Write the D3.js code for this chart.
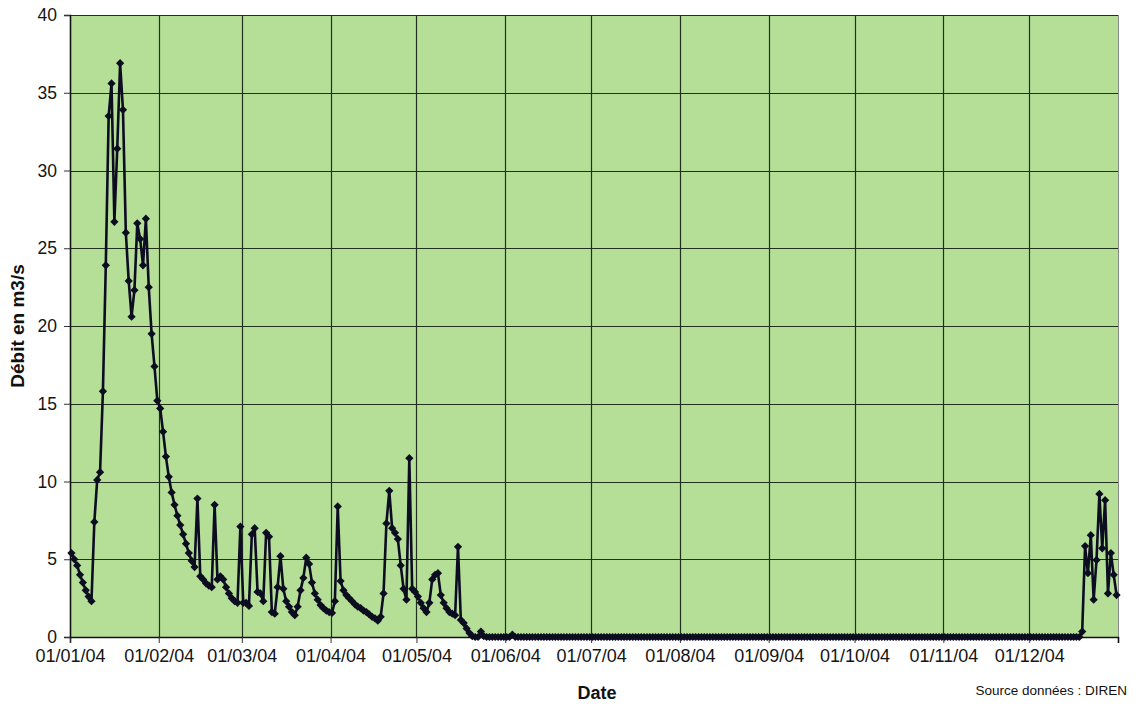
<!DOCTYPE html>
<html><head><meta charset="utf-8">
<script src="https://cdn.jsdelivr.net/npm/d3@7"></script>
<style>body{margin:0;background:#fff} svg{display:block}</style>
</head><body>
<svg id="chart" width="1136" height="708"></svg>
<script>
// Débit journalier 2004 (m3/s), une liste par mois
const janvier = [5.4, 5.0, 4.6, 4.0, 3.5, 3.0, 2.6, 2.3, 7.4, 10.1,
  10.6, 15.8, 23.9, 33.5, 35.6, 26.7, 31.4, 36.9, 33.9, 26.0,
  22.9, 20.6, 22.3, 26.6, 25.6, 23.9, 26.9, 22.5, 19.5, 17.4, 15.2];
const fevrier = [14.7, 13.2, 11.6, 10.3, 9.3, 8.5, 7.8, 7.2, 6.6, 6.0,
  5.4, 4.9, 4.5, 8.9, 3.9, 3.7, 3.45, 3.3, 3.2, 8.5,
  3.7, 3.9, 3.7, 3.2, 2.8, 2.5, 2.3, 2.2, 7.1];
const mars = [2.2, 2.2, 2.0, 6.6, 7.0, 2.9, 2.8, 2.3, 6.7, 6.45,
  1.6, 1.5, 3.2, 5.2, 3.1, 2.3, 1.95, 1.6, 1.4, 1.95,
  3.0, 3.8, 5.1, 4.7, 3.5, 2.8, 2.4, 2.05, 1.85, 1.7, 1.6];
const avril = [1.55, 2.3, 8.4, 3.6, 3.0, 2.7, 2.5, 2.3, 2.1, 1.95,
  1.85, 1.7, 1.6, 1.45, 1.3, 1.2, 1.05, 1.3, 2.8, 7.3,
  9.4, 7.0, 6.7, 6.3, 4.6, 3.1, 2.4, 11.5, 3.1, 2.9];
const mai = [2.6, 2.2, 1.85, 1.6, 2.2, 3.7, 4.0, 4.1, 2.7, 2.2,
  1.85, 1.6, 1.5, 1.4, 5.8, 1.1, 0.9, 0.55, 0.25, 0.05,
  0, 0, 0.35, 0.05, 0, 0, 0, 0, 0, 0, 0];
const juin = [0, 0, 0.15, 0, 0, 0, 0, 0, 0, 0,
  0, 0, 0, 0, 0, 0, 0, 0, 0, 0,
  0, 0, 0, 0, 0, 0, 0, 0, 0, 0];
const juillet = [0, 0, 0, 0, 0, 0, 0, 0, 0, 0,
  0, 0, 0, 0, 0, 0, 0, 0, 0, 0,
  0, 0, 0, 0, 0, 0, 0, 0, 0, 0, 0];
const aout = [0, 0, 0, 0, 0, 0, 0, 0, 0, 0,
  0, 0, 0, 0, 0, 0, 0, 0, 0, 0,
  0, 0, 0, 0, 0, 0, 0, 0, 0, 0, 0];
const septembre = [0, 0, 0, 0, 0, 0, 0, 0, 0, 0,
  0, 0, 0, 0, 0, 0, 0, 0, 0, 0,
  0, 0, 0, 0, 0, 0, 0, 0, 0, 0];
const octobre = [0, 0, 0, 0, 0, 0, 0, 0, 0, 0,
  0, 0, 0, 0, 0, 0, 0, 0, 0, 0,
  0, 0, 0, 0, 0, 0, 0, 0, 0, 0, 0];
const novembre = [0, 0, 0, 0, 0, 0, 0, 0, 0, 0,
  0, 0, 0, 0, 0, 0, 0, 0, 0, 0,
  0, 0, 0, 0, 0, 0, 0, 0, 0, 0];
const decembre = [0, 0, 0, 0, 0, 0, 0, 0, 0, 0,
  0, 0, 0, 0, 0, 0, 0, 0, 0.35, 5.85,
  4.1, 6.55, 2.4, 4.95, 9.2, 5.7, 8.8, 2.8, 5.4, 4.0, 2.7];

const monthLabels = ["01/01/04", "01/02/04", "01/03/04", "01/04/04", "01/05/04", "01/06/04",
  "01/07/04", "01/08/04", "01/09/04", "01/10/04", "01/11/04", "01/12/04"];
const yTickValues = [0, 5, 10, 15, 20, 25, 30, 35, 40];

const debit = [].concat(janvier, fevrier, mars, avril, mai, juin, juillet, aout,
  septembre, octobre, novembre, decembre);

const svg = d3.select("#chart");
const P = {left: 70, right: 1118, top: 15, bottom: 637};
const FONT = "'Liberation Sans', Arial, sans-serif";

const start = new Date(2004, 0, 1), end = new Date(2005, 0, 1);
const x = d3.scaleTime().domain([start, end]).range([P.left, P.right]);
const y = d3.scaleLinear().domain([0, 40]).range([P.bottom, P.top]);

const data = debit.map((v, i) => ({date: new Date(2004, 0, 1 + i, 12), v}));
const monthDates = d3.timeMonth.range(start, end);

// plot background
svg.append("rect").attr("x", P.left).attr("y", P.top)
  .attr("width", P.right - P.left).attr("height", P.bottom - P.top)
  .attr("fill", "#b5de97");

// gridlines
const grid = svg.append("g").attr("stroke", "#22301d").attr("stroke-width", 1.2);
grid.selectAll("line.h").data(yTickValues.filter(d => d > 0)).join("line")
  .attr("x1", P.left).attr("x2", P.right)
  .attr("y1", d => Math.round(y(d)) + 0.5).attr("y2", d => Math.round(y(d)) + 0.5);
grid.selectAll("line.v").data(monthDates.slice(1)).join("line")
  .attr("y1", P.top).attr("y2", P.bottom)
  .attr("x1", d => Math.round(x(d)) + 0.5).attr("x2", d => Math.round(x(d)) + 0.5);
// right border
svg.append("line").attr("x1", P.right + 0.5).attr("x2", P.right + 0.5)
  .attr("y1", P.top).attr("y2", P.bottom).attr("stroke", "#8a8a8a").attr("stroke-width", 1);

// axes
const xAxis = d3.axisBottom(x).tickValues(monthDates)
  .tickFormat((d, i) => monthLabels[i]).tickSize(6).tickPadding(6);
const gx = svg.append("g").attr("transform", `translate(0,${P.bottom})`).call(xAxis);
const yAxis = d3.axisLeft(y).tickValues(yTickValues).tickFormat(d3.format("d"))
  .tickSize(6).tickPadding(7);
const gy = svg.append("g").attr("transform", `translate(${P.left},0)`).call(yAxis);
[gx, gy].forEach(g => {
  g.select(".domain").attr("stroke", "#111").attr("stroke-width", 1.6);
  g.selectAll(".tick line").attr("stroke", "#333");
  g.selectAll("text").attr("font-family", FONT).attr("fill", "#151515");
});
gx.selectAll("text").attr("font-size", 18);
gy.selectAll("text").attr("font-size", 17.5);

// series
const line = d3.line().x(d => x(d.date)).y(d => y(d.v));
svg.append("path").datum(data).attr("d", line)
  .attr("fill", "none").attr("stroke", "#0d0d22").attr("stroke-width", 2.6)
  .attr("stroke-linejoin", "round");
const sym = d3.symbol(d3.symbolSquare, 34);
svg.append("g").selectAll("path").data(data).join("path")
  .attr("d", sym)
  .attr("transform", d => `translate(${x(d.date)},${y(d.v)}) rotate(45)`)
  .attr("fill", "#0d0d22");

// titles
svg.append("text").attr("x", 597).attr("y", 699).attr("text-anchor", "middle")
  .attr("font-family", FONT).attr("font-size", 18).attr("font-weight", "bold")
  .attr("fill", "#111").text("Date");
svg.append("text").attr("transform", "translate(24,326) rotate(-90)")
  .attr("text-anchor", "middle").attr("font-family", FONT).attr("font-size", 19)
  .attr("font-weight", "bold").attr("fill", "#111").text("Débit en m3/s");
svg.append("text").attr("x", 1127).attr("y", 695).attr("text-anchor", "end")
  .attr("font-family", FONT).attr("font-size", 13.5).attr("fill", "#111")
  .text("Source données : DIREN");
</script>
</body></html>
